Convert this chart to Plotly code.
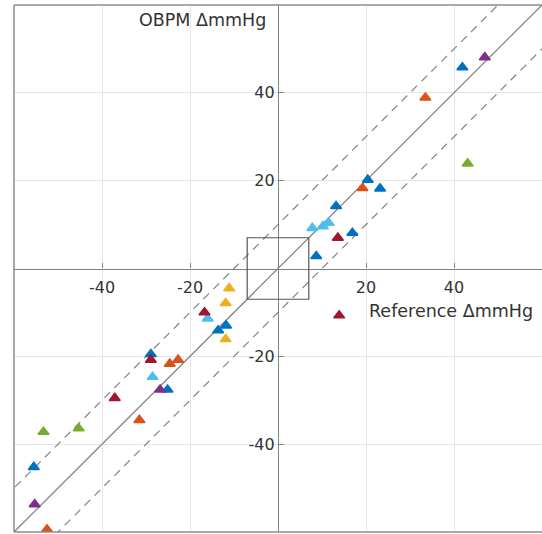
import plotly.graph_objects as go

# ---- data (Reference ΔmmHg, OBPM ΔmmHg) per group ----
blue_x = [41.9, 20.4, 23.2, 13.2, 16.9, 8.7, -11.8, -13.6, -28.9, -25.1, -55.5]
blue_y = [45.8, 20.2, 18.2, 14.2, 8.1, 2.8, -13.0, -14.1, -19.5, -27.6, -45.2]
orange_x = [33.5, 19.2, -22.7, -24.6, -31.5, -52.5]
orange_y = [38.9, 18.3, -20.8, -21.7, -34.5, -59.4]
yellow_x = [-11.1, -11.9, -11.9]
yellow_y = [-4.5, -7.9, -16.1]
purple_x = [47.0, -26.8, -55.3]
purple_y = [48.1, -27.6, -53.7]
green_x = [43.1, -45.3, -53.3]
green_y = [23.9, -36.4, -37.2]
lightblue_x = [7.8, 10.2, 11.5, -16.0, -28.5]
lightblue_y = [9.2, 9.6, 10.4, -11.4, -24.7]
darkred_x = [13.6, 13.9, -16.7, -28.9, -37.1]
darkred_y = [7.0, -10.7, -10.0, -20.8, -29.5]

tick_vals = [-40, -20, 20, 40]
tick_text = ["-40", "-20", "20", "40"]
axis_range = [-60, 60]
band_offset = 10
box_half = 7

groups = [
    (blue_x, blue_y, "#0072BD"),
    (orange_x, orange_y, "#D95319"),
    (yellow_x, yellow_y, "#EDB120"),
    (purple_x, purple_y, "#7E2F8E"),
    (green_x, green_y, "#77AC30"),
    (lightblue_x, lightblue_y, "#4DBEEE"),
    (darkred_x, darkred_y, "#A2142F"),
]

FONT = "DejaVu Sans, Liberation Sans, Arial"

fig = go.Figure()

# identity line and ±offset bands
ext = [axis_range[0] - 20, axis_range[1] + 20]
fig.add_trace(go.Scatter(x=ext, y=ext, mode="lines",
                         line=dict(color="#858585", width=1.3), hoverinfo="skip"))
for off in (band_offset, -band_offset):
    fig.add_trace(go.Scatter(x=ext, y=[v + off for v in ext], mode="lines",
                             line=dict(color="#8c8c8c", width=1.3, dash="8px,6px"),
                             hoverinfo="skip"))

for xs, ys, col in groups:
    fig.add_trace(go.Scatter(x=xs, y=ys, mode="markers",
                             marker=dict(symbol="triangle-up", size=9.5,
                                         color=col, line=dict(color=col, width=1.5))))

# box around origin
fig.add_shape(type="rect", x0=-box_half, x1=box_half, y0=-box_half, y1=box_half,
              xref="x", yref="y", line=dict(color="#555555", width=1.2))

# frame (top, left, bottom)
for x0, y0, x1, y1 in [(0, 1, 1, 1), (0, 0, 0, 1), (0, 0, 1, 0)]:
    fig.add_shape(type="line", xref="paper", yref="paper", x0=x0, y0=y0, x1=x1, y1=y1,
                  line=dict(color="#8c8c8c", width=1.5))

axis_common = dict(range=axis_range, tickvals=tick_vals, ticktext=tick_text,
                   showgrid=True, gridcolor="#e6e6e6", gridwidth=1,
                   zeroline=False, showline=True, linecolor="#808080", linewidth=1.2,
                   ticks="inside", ticklen=5, tickcolor="#808080",
                   tickfont=dict(family=FONT, size=16, color="#333333"),
                   anchor="free", position=0.5, fixedrange=True)

fig.update_layout(
    width=542, height=534,
    margin=dict(l=14, r=0, t=5, b=2),
    plot_bgcolor="white", paper_bgcolor="white",
    showlegend=False,
    xaxis=dict(**axis_common, side="bottom", ticklabelstandoff=4),
    yaxis=dict(**axis_common, side="left"),
    annotations=[
        dict(text="OBPM ΔmmHg", x=-2.3, y=56.5, xref="x", yref="y",
             xanchor="right", yanchor="middle", showarrow=False,
             font=dict(family=FONT, size=17.5, color="#333333")),
        dict(text="Reference ΔmmHg", x=58.5, y=-9.6, xref="x", yref="y",
             xanchor="right", yanchor="middle", showarrow=False,
             font=dict(family=FONT, size=17.5, color="#333333")),
    ],
)

fig.write_html("out.html", config={"displayModeBar": False},
               post_script="document.body.style.margin='0';document.body.style.overflow='hidden';")
